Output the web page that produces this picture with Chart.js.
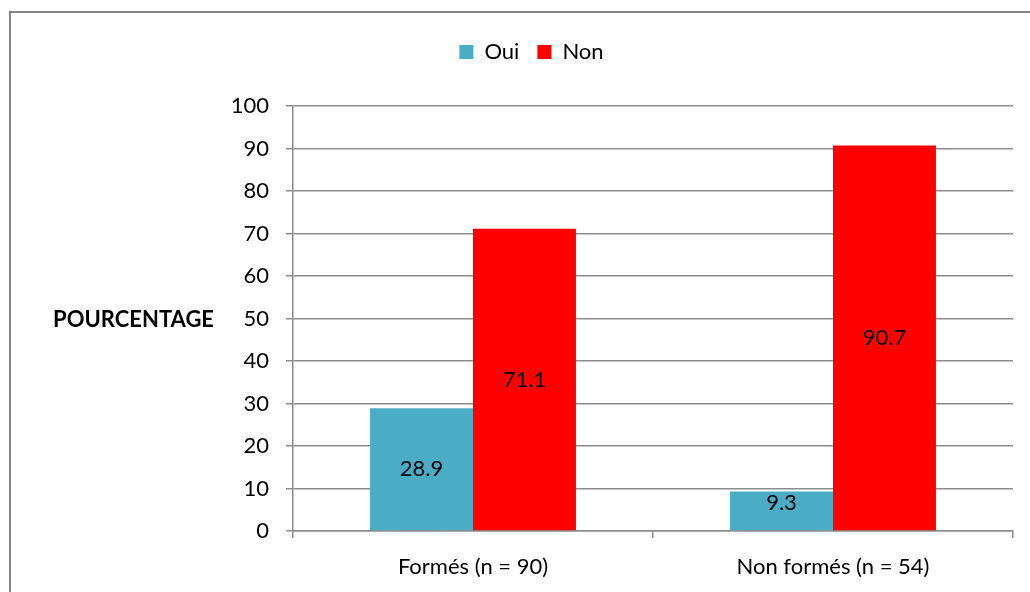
<!DOCTYPE html>
<html>
<head>
<meta charset="utf-8">
<script src="https://cdn.jsdelivr.net/npm/chart.js@4/dist/chart.umd.min.js"></script>
<style>
  html, body { margin: 0; padding: 0; background: #ffffff; }
  #wrap { width: 1030px; height: 592px; position: relative; }
</style>
</head>
<body>
<div id="wrap"><canvas id="c" width="1030" height="592"></canvas></div>
<script>
const categories = ["Formés (n = 90)", "Non formés (n = 54)"];
const seriesNames = ["Oui", "Non"];
const ouiValues = [28.9, 9.3];
const nonValues = [71.1, 90.7];
const yTitle = "POURCENTAGE";

const FONT = "Lato, 'Open Sans', sans-serif";
const FS = 22;
const GRID = "#8c8c8c";

const legendGap = {
  id: 'legendGap',
  beforeInit(chart) {
    const fit = chart.legend.fit;
    chart.legend.fit = function () {
      fit.bind(chart.legend)();
      this.height += 33;
    };
  },
  afterLayout(chart) {
    chart.legend.left += 25;
    chart.legend.right += 25;
  }
};

const frame = {
  id: 'frame',
  beforeDraw(chart) {
    const ctx = chart.ctx;
    ctx.save();
    ctx.fillStyle = '#ffffff';
    ctx.fillRect(0, 0, chart.width, chart.height);
    ctx.strokeStyle = '#868686';
    ctx.lineWidth = 2;
    ctx.strokeRect(10, 12, 1040, 620);
    ctx.restore();
  }
};

const yTitlePlugin = {
  id: 'yTitlePlugin',
  afterDraw(chart) {
    const ctx = chart.ctx;
    const y = chart.scales.y;
    ctx.save();
    ctx.font = "bold " + FS + "px " + FONT;
    ctx.fillStyle = '#000';
    ctx.textAlign = 'right';
    ctx.textBaseline = 'middle';
    ctx.fillText(yTitle, 214, y.getPixelForValue(50) + 1);
    ctx.restore();
  }
};

const barLabels = {
  id: 'barLabels',
  afterDatasetsDraw(chart) {
    const ctx = chart.ctx;
    ctx.save();
    ctx.font = FS + "px " + FONT;
    ctx.fillStyle = '#000';
    ctx.textAlign = 'center';
    ctx.textBaseline = 'middle';
    chart.data.datasets.forEach((ds, i) => {
      const meta = chart.getDatasetMeta(i);
      meta.data.forEach((el, j) => {
        const v = ds.data[j];
        let cy = (el.y + el.base) / 2;
        const h = el.base - el.y;
        if (h < 60) cy = el.y + 11;
        ctx.fillText(v.toFixed(1), el.x, cy);
      });
    });
    ctx.restore();
  }
};

new Chart(document.getElementById('c'), {
  type: 'bar',
  data: {
    labels: categories,
    datasets: [
      { label: seriesNames[0], data: ouiValues, backgroundColor: '#4BACC6', borderWidth: 0 },
      { label: seriesNames[1], data: nonValues, backgroundColor: '#FF0000', borderWidth: 0 }
    ]
  },
  options: {
    responsive: false,
    animation: false,
    devicePixelRatio: 1,
    layout: { padding: { top: 23, right: 17, bottom: 0, left: 0 } },
    datasets: { bar: { categoryPercentage: 0.572, barPercentage: 1.0 } },
    plugins: {
      legend: {
        display: true,
        position: 'top',
        labels: {
          font: { family: FONT, size: FS },
          color: '#000',
          boxWidth: 14,
          boxHeight: 14,
          padding: 18
        }
      },
      tooltip: { enabled: false }
    },
    scales: {
      x: {
        afterFit(s) { s.height = 61; },
        grid: { display: true, drawOnChartArea: false, drawTicks: true, tickLength: 7, color: GRID, lineWidth: 1.5, offset: true },
        border: { display: true, color: GRID, width: 1.5 },
        ticks: { font: { family: FONT, size: FS }, color: '#000', padding: 16 }
      },
      y: {
        min: 0, max: 100,
        afterFit(s) { s.width = 293; },
        grid: { color: GRID, lineWidth: 1.5, tickLength: 7, drawTicks: true },
        border: { display: true, color: GRID, width: 1.5 },
        ticks: { stepSize: 10, font: { family: FONT, size: FS }, color: '#000', padding: 17 }
      }
    }
  },
  plugins: [legendGap, frame, yTitlePlugin, barLabels]
});
</script>
</body>
</html>
